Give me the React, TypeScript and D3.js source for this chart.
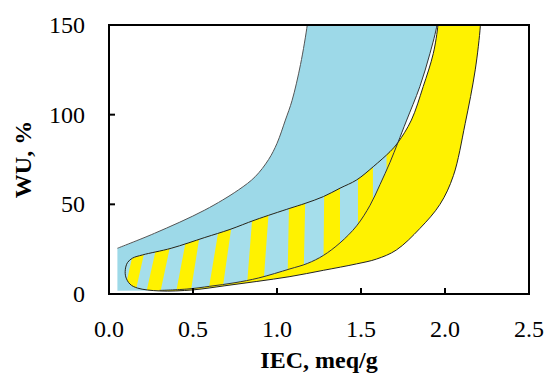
import React from 'react';
import * as d3 from 'd3';

type Pt = [number, number];

// blue band, upper boundary (IEC, WU)
const blueUpper: Pt[] = [
  [0.05, 25.5], [0.27, 33.8], [0.57, 46.8], [0.77, 58], [0.87, 65.4], [0.95, 75],
  [1.0, 84], [1.05, 97], [1.09, 108], [1.14, 128], [1.18, 150], [1.185, 155],
];
// blue band, lower boundary
const blueLower: Pt[] = [
  [0.3, 2.0], [0.47, 2.8], [0.6, 4.3], [0.75, 6.3], [0.889, 8.9], [1.077, 14],
  [1.18, 17], [1.276, 21.5], [1.375, 28.5], [1.474, 38], [1.554, 49.5], [1.613, 61],
  [1.673, 73.5], [1.72, 84.5], [1.77, 96.5], [1.85, 115.6], [1.91, 134], [1.952, 150], [1.955, 155],
];
const blueLeft: Pt[] = [[0.05, 1.8], [0.05, 25.5]];

// yellow band, upper boundary incl. the rounded left end
const yellowUpper: Pt[] = [
  [0.17, 3.3], [0.125, 5.5], [0.1, 9.5], [0.097, 13.5], [0.11, 17.5], [0.14, 20],
  [0.2, 21.8], [0.37, 25.5], [0.57, 31.5], [0.72, 36], [0.87, 41.3], [1.077, 47.8],
  [1.167, 50.5], [1.276, 54.3], [1.375, 59], [1.474, 63.6], [1.573, 71], [1.673, 79.4],
  [1.72, 84.5], [1.8, 97], [1.87, 115.6], [1.93, 134], [1.958, 150], [1.96, 155],
];
// yellow band, lower boundary
const yellowLower: Pt[] = [
  [0.17, 3.3], [0.3, 1.7], [0.5, 2.3], [0.69, 4.6], [0.88, 7], [1.077, 9.7],
  [1.276, 13.2], [1.474, 16.8], [1.593, 19.5], [1.71, 24.5], [1.85, 36.5],
  [1.97, 50], [2.05, 66], [2.12, 95], [2.18, 125], [2.21, 149], [2.212, 155],
];

// yellow stripes in the overlap: [left, right] at WU 0, [left, right] at WU 50
const stripes: [number, number, number, number][] = [
  [0.077, 0.143, 0.202, 0.268],
  [0.208, 0.292, 0.333, 0.411],
  [0.387, 0.476, 0.494, 0.565],
  [0.58, 0.664, 0.673, 0.744],
  [0.813, 0.911, 0.857, 0.952],
  [1.06, 1.155, 1.071, 1.167],
  [1.274, 1.375, 1.28, 1.375],
  [1.482, 1.571, 1.482, 1.571],
  [1.652, 1.76, 1.652, 1.76],
];

const xTicks = [0, 0.5, 1.0, 1.5, 2.0, 2.5];
const yTicks = [0, 50, 100, 150];

const W = 547;
const H = 373;
const margin = { left: 109, right: 18, top: 25, bottom: 79 };

const BLUE = '#9DD9E8';
const STRIPE_BLUE = '#A5DEEB';
const YELLOW = '#FFF200';
const FONT = "'Liberation Serif', 'Times New Roman', Times, serif";

export default function App() {
  const x = d3.scaleLinear().domain([0, 2.5]).range([margin.left, W - margin.right]);
  const y = d3.scaleLinear().domain([0, 150]).range([H - margin.bottom, margin.top]);

  const smooth = d3.line<Pt>().x(d => x(d[0])).y(d => y(d[1])).curve(d3.curveCatmullRom.alpha(0.5));
  const straight = d3.line<Pt>().x(d => x(d[0])).y(d => y(d[1]));
  const cont = (s: string | null) => (s || '').replace(/^M/, 'L');

  // blue: down the lower edge, along the left side, up the upper edge
  const bluePath =
    smooth([...blueLower].reverse()) +
    cont(straight(blueLeft)) +
    cont(smooth(blueUpper)) + 'Z';

  const yellowPath = smooth([...[...yellowLower].reverse(), ...yellowUpper.slice(1)]) + 'Z';

  const stripePolys = stripes.map(([b0, b1, t0, t1]) => {
    const e0 = b0 + 2 * (t0 - b0);
    const e1 = b1 + 2 * (t1 - b1);
    return straight([[b0, -5], [b1, -5], [e1, 100], [e0, 100]] as Pt[]) + 'Z';
  });

  const [x0, x1] = x.range();
  const [y0, y1] = y.range();

  return (
    <svg width={W} height={H} style={{ position: 'absolute', left: 0, top: 0, display: 'block', background: '#fff', fontFamily: FONT }}>
      <defs>
        <clipPath id="plot"><rect x={x0} y={y1} width={x1 - x0} height={y0 - y1} /></clipPath>
        <clipPath id="clipY"><path d={yellowPath} /></clipPath>
        <clipPath id="clipB"><path d={bluePath} /></clipPath>
      </defs>

      <g clipPath="url(#plot)">
        <path d={bluePath} fill={BLUE} />
        <path d={yellowPath} fill={YELLOW} />
        <g clipPath="url(#clipY)">
          <g clipPath="url(#clipB)">
            <rect x={x0} y={y1} width={x1 - x0} height={y0 - y1} fill={STRIPE_BLUE} />
            {stripePolys.map((d, i) => <path key={i} d={d} fill={YELLOW} />)}
          </g>
        </g>
        <path d={yellowPath} fill="none" stroke="#222" strokeWidth={1} />
        <path d={smooth(blueUpper) || ''} fill="none" stroke="#555" strokeWidth={1} />
        <path d={smooth(blueLower) || ''} fill="none" stroke="#333" strokeWidth={1} />
      </g>

      {/* frame and inward ticks */}
      <rect x={x0} y={y1} width={x1 - x0} height={y0 - y1} fill="none" stroke="#000" strokeWidth={2} />
      {xTicks.map(t => (
        <g key={'x' + t}>
          <line x1={x(t)} x2={x(t)} y1={y0} y2={y0 - 6} stroke="#000" strokeWidth={2} />
          <text x={x(t)} y={y0 + 43} textAnchor="middle" style={{ fontSize: 24 }}>{t.toFixed(1)}</text>
        </g>
      ))}
      {yTicks.map(t => (
        <g key={'y' + t}>
          <line x1={x0} x2={x0 + 6} y1={y(t)} y2={y(t)} stroke="#000" strokeWidth={2} />
          <text x={x0 - 24} y={y(t)} dy="0.34em" textAnchor="end" style={{ fontSize: 24 }}>{t}</text>
        </g>
      ))}

      <text x={(x0 + x1) / 2} y={368} textAnchor="middle" style={{ fontSize: 24, fontWeight: 'bold' }}>IEC, meq/g</text>
      <text transform={`translate(31,${(y0 + y1) / 2}) rotate(-90)`} textAnchor="middle" style={{ fontSize: 24, fontWeight: 'bold' }}>WU, %</text>
    </svg>
  );
}
